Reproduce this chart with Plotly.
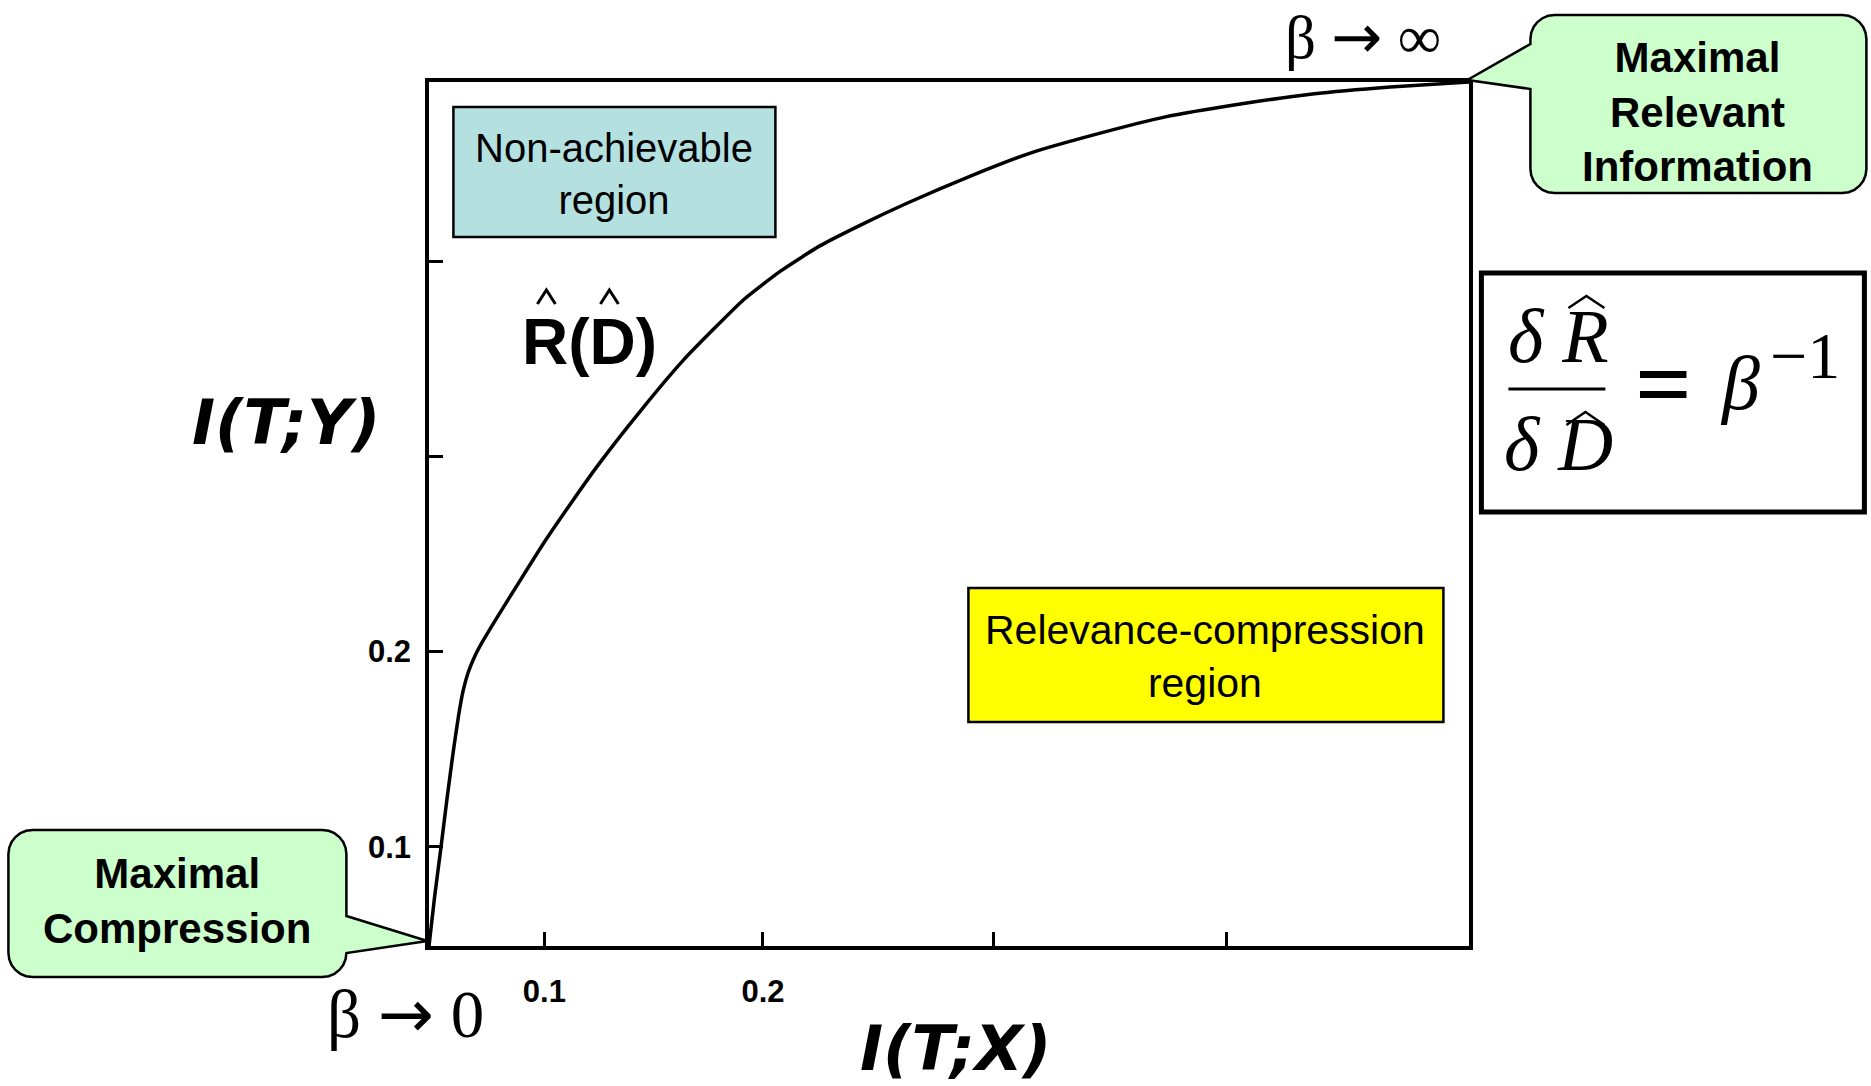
import math
import plotly.graph_objects as go

# Information curve: I(T;X) vs I(T;Y)
info_x = [0.0472, 0.0497, 0.0527, 0.0556, 0.0584, 0.0607, 0.0629, 0.0652, 0.0680,
          0.0716, 0.0776, 0.0890, 0.1000, 0.1119, 0.1242, 0.1439, 0.1640, 0.1915,
          0.2080, 0.2258, 0.2446, 0.2661, 0.2949, 0.3223, 0.3543, 0.3836, 0.4184,
          0.4513, 0.4870, 0.5230]
info_y = [0.0491, 0.0737, 0.0998, 0.1260, 0.1495, 0.1670, 0.1803, 0.1895, 0.1972,
          0.2049, 0.2161, 0.2366, 0.2561, 0.2756, 0.2950, 0.3232, 0.3498, 0.3806,
          0.3949, 0.4077, 0.4185, 0.4298, 0.4436, 0.4554, 0.4656, 0.4738, 0.4805,
          0.4856, 0.4892, 0.4918]

x_tickvals = [0.1, 0.2, 0.3056, 0.4119]
x_ticktext = ["0.1", "0.2", "", ""]
y_tickvals = [0.1, 0.2, 0.3, 0.4]
y_ticktext = ["0.1", "0.2", "", ""]
x_range = [0.0472, 0.5230]
y_range = [0.0491, 0.4918]

W, H = 1871, 1086
L, R, T, B = 428.6, 1468.6, 82.0, 946.0

SANS = "Liberation Sans, Arial, sans-serif"
SERIF = "Liberation Serif, Times New Roman, serif"
HAND = "DejaVu Sans, Verdana, sans-serif"
ARROW = "<span style='font-family:DejaVu Sans'>→</span>"


def px(x):
    return (x - L) / (R - L)


def py(y):
    return (B - y) / (B - T)


def path(points, close=False):
    s = "M " + " L ".join(f"{px(x):.5f},{py(y):.5f}" for x, y in points)
    return s + (" Z" if close else "")


def callout(x0, y0, x1, y1, r, side, p0, p1, tip):
    """Rounded box with a pointer on one side (pixel coordinates)."""
    def arc(cx, cy, a, b):
        return [(cx + r * math.cos(a + (b - a) * k / 6),
                 cy + r * math.sin(a + (b - a) * k / 6)) for k in range(7)]
    pts = []
    pts += arc(x1 - r, y0 + r, -math.pi / 2, 0)
    if side == "right":
        pts += [(x1, p0), tip, (x1, p1)]
    pts += arc(x1 - r, y1 - r, 0, math.pi / 2)
    pts += arc(x0 + r, y1 - r, math.pi / 2, math.pi)
    if side == "left":
        pts += [(x0, p1), tip, (x0, p0)]
    pts += arc(x0 + r, y0 + r, math.pi, 1.5 * math.pi)
    return path(pts, close=True)


fig = go.Figure()
fig.add_trace(go.Scatter(
    x=info_x, y=info_y, mode="lines",
    line=dict(color="black", width=3.5, shape="spline", smoothing=0.5),
    cliponaxis=False, showlegend=False, hoverinfo="skip",
))

shapes = []
annotations = []


def text(s, x, y, size, family=SANS, weight="normal", style="normal"):
    annotations.append(dict(
        text=s, x=px(x), y=py(y), xref="paper", yref="paper",
        xanchor="center", yanchor="middle", showarrow=False,
        font=dict(family=family, size=size, color="black", weight=weight, style=style),
    ))


def hat(x0, x1, top, base, width=2.5):
    shapes.append(dict(type="path", xref="paper", yref="paper",
                       path=path([(x0, base), ((x0 + x1) / 2, top), (x1, base)]),
                       line=dict(color="black", width=width)))


# Region boxes
shapes.append(dict(type="rect", xref="paper", yref="paper",
                   x0=px(453), x1=px(775), y0=py(237), y1=py(107),
                   fillcolor="#b4e0e0", line=dict(color="black", width=2.5)))
text("Non-achievable<br>region", 614, 174, 40)

shapes.append(dict(type="rect", xref="paper", yref="paper",
                   x0=px(968), x1=px(1443), y0=py(722), y1=py(588),
                   fillcolor="#ffff00", line=dict(color="black", width=2.5)))
text("Relevance-compression<br>region", 1205, 656, 41)

# Curve label with hats
text("R(D)", 589, 342, 64, weight="bold")
hat(537, 555, 290, 304, 3)
hat(600, 618, 290, 304, 3)

# Callouts
shapes.append(dict(type="path", xref="paper", yref="paper",
                   path=callout(8, 830, 346, 977, 24, "right", 916, 953, (427, 941)),
                   fillcolor="#ccffcc", line=dict(color="black", width=2.5)))
text("<b>Maximal<br>Compression</b>", 177, 901, 42)

shapes.append(dict(type="path", xref="paper", yref="paper",
                   path=callout(1530, 15, 1866, 193, 24, "left", 44, 89, (1467, 80)),
                   fillcolor="#ccffcc", line=dict(color="black", width=2.5)))
text("<b>Maximal<br>Relevant<br>Information</b>", 1697, 112, 42)

# Beta limits
text(f"β {ARROW} 0", 405, 1014, 67, family=SERIF)
text(f"β {ARROW} ∞", 1363, 36, 61, family=SERIF)

# Axis titles
text("I(T;Y)", 286, 422, 62, family=HAND, weight="bold", style="italic")
text("I(T;X)", 955, 1048, 62, family=HAND, weight="bold", style="italic")

# Slope relation
shapes.append(dict(type="rect", xref="paper", yref="paper",
                   x0=px(1481), x1=px(1864), y0=py(512), y1=py(273),
                   line=dict(color="black", width=5)))
text("<i>δ R</i>", 1558, 336, 76, family=SERIF)
text("<i>δ D</i>", 1558, 444, 76, family=SERIF)
shapes.append(dict(type="line", xref="paper", yref="paper",
                   x0=px(1508), x1=px(1605), y0=py(389), y1=py(389),
                   line=dict(color="black", width=3)))
hat(1568, 1604, 296, 308)
hat(1566, 1604, 412, 425)
text("<b>=</b>", 1663, 384, 100, family=SERIF)
text("<i>β</i>", 1740, 383, 76, family=SERIF)
text("−1", 1805, 355, 66, family=SERIF)

fig.update_layout(
    width=W, height=H,
    margin=dict(l=L, r=W - R, t=T, b=H - B, pad=0),
    paper_bgcolor="white", plot_bgcolor="white",
    shapes=shapes, annotations=annotations,
    xaxis=dict(range=x_range, tickvals=x_tickvals, ticktext=x_ticktext,
               ticks="inside", ticklen=14, tickwidth=3, tickcolor="black",
               showline=True, linewidth=3.5, linecolor="black", mirror=True,
               showgrid=False, zeroline=False, ticklabelstandoff=15,
               tickfont=dict(family=SANS, size=31, color="black", weight="bold")),
    yaxis=dict(range=y_range, tickvals=y_tickvals, ticktext=y_ticktext,
               ticks="inside", ticklen=14, tickwidth=3, tickcolor="black",
               showline=True, linewidth=3.5, linecolor="black", mirror=True,
               showgrid=False, zeroline=False, ticklabelstandoff=8,
               tickfont=dict(family=SANS, size=31, color="black", weight="bold")),
)

fig.write_html("out.html")
